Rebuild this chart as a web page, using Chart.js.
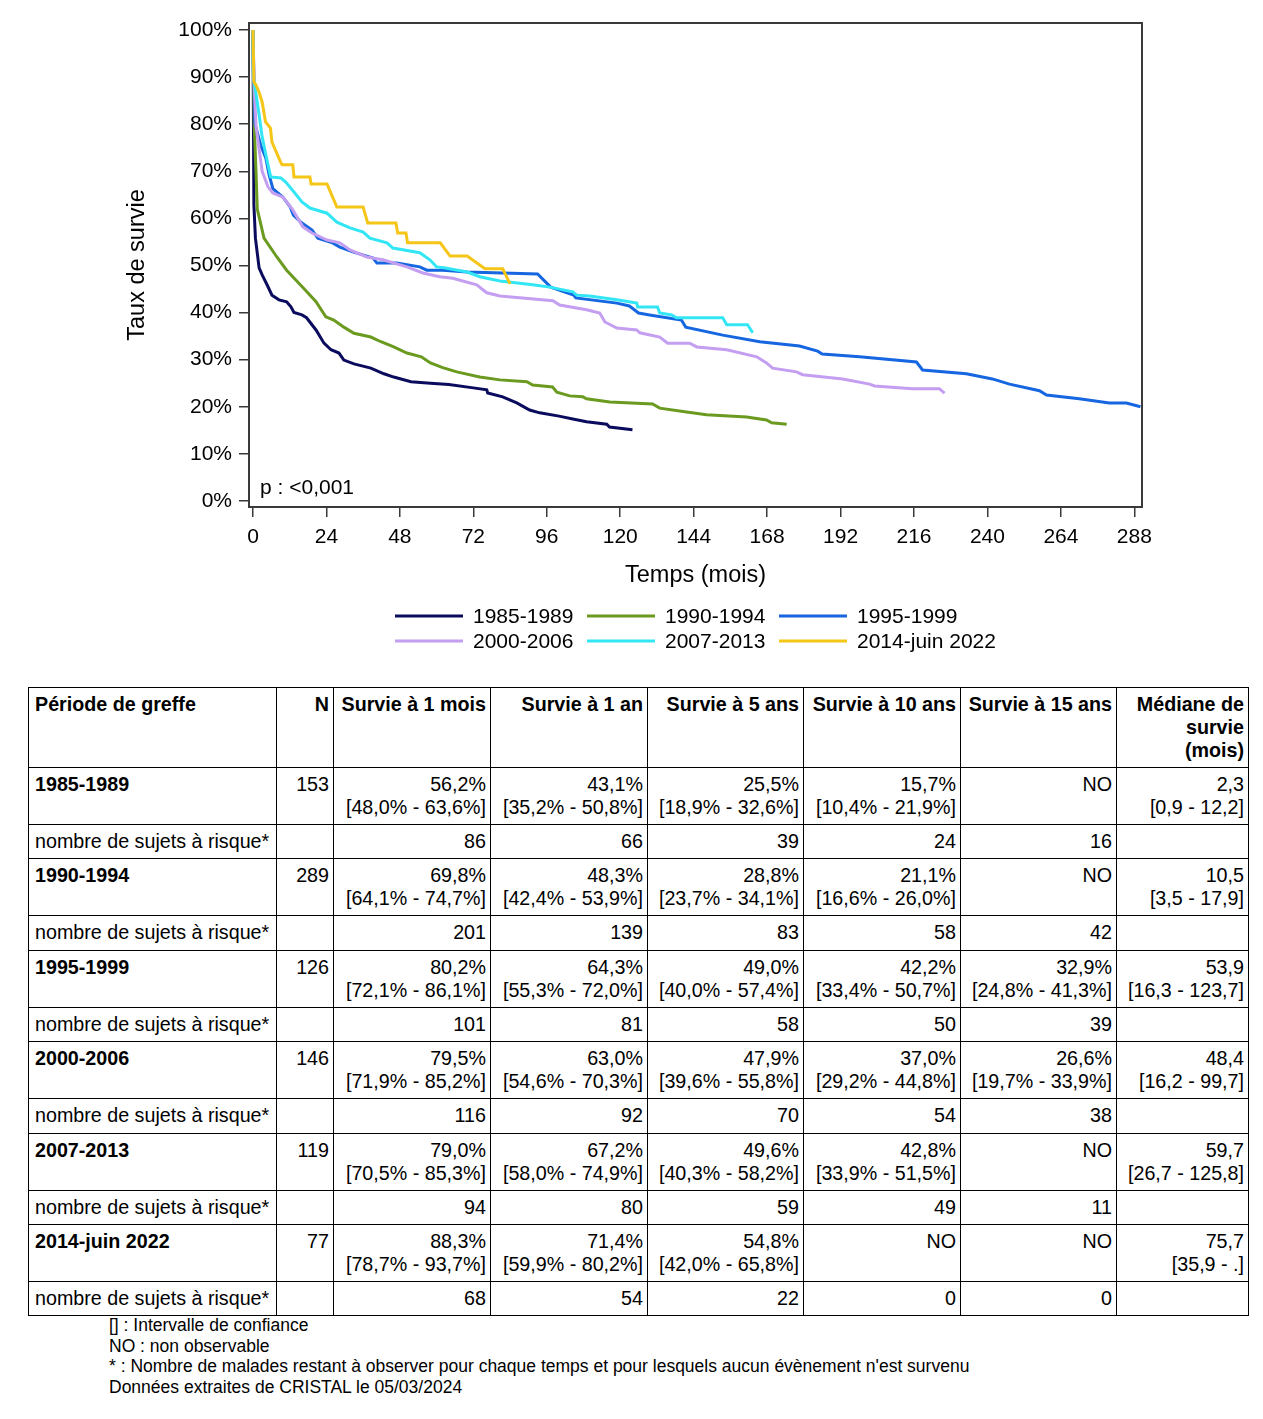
<!DOCTYPE html>
<html><head><meta charset="utf-8">
<script src="https://cdn.jsdelivr.net/npm/chart.js@4.4.1/dist/chart.umd.min.js"></script>
<style>
html,body{margin:0;padding:0;background:#fff;}
body{width:1263px;height:1419px;position:relative;font-family:'Liberation Sans',Arial,sans-serif;color:#000;overflow:hidden;}
#chartBox{position:absolute;left:0;top:0;width:1263px;height:665px;}
#tbl{position:absolute;left:28px;top:687px;border-collapse:collapse;font-size:19.7px;line-height:23px;table-layout:fixed;width:1220px;}
#tbl td,#tbl th{border:1px solid #000;padding:5px 4px 0 6px;vertical-align:top;text-align:right;overflow:hidden;white-space:nowrap;}
#tbl th{font-weight:bold;}
#tbl td.first,#tbl th.first{text-align:left;}
#tbl tr.hdr{height:80px;}
#tbl tr.main{height:57px;}
#tbl tr.main td.first{font-weight:bold;}
#tbl tr.risk{height:34.4px;}
#tbl tr.risk td{padding-top:5px;}
#foot{position:absolute;left:109px;top:1315px;font-size:17.5px;line-height:20.5px;}
</style>
</head><body>
<div id="chartBox"><canvas id="c" width="1263" height="665"></canvas></div>
<table id="tbl"></table>
<div id="foot">[] : Intervalle de confiance<br>NO : non observable<br>* : Nombre de malades restant à observer pour chaque temps et pour lesquels aucun évènement n'est survenu<br>Données extraites de CRISTAL le 05/03/2024</div>
<script>
// ---- chart data ----
const periods = ['1985-1989','1990-1994','1995-1999','2000-2006','2007-2013','2014-juin 2022'];
const xTicks = [0,24,48,72,96,120,144,168,192,216,240,264,288];
const yTicks = [0,10,20,30,40,50,60,70,80,90,100];

const t1985 = [0,0.3,0.8,2,3,4.6,6.2,8.5,11,12.4,13.4,16,17.5,20.6,23.2,25.5,28.1,29.7,33,38.5,42.8,46,51.6,58,64,72,76.4,76.7,81.6,86.2,90.4,93.7,100,104.5,109,115.6,116.5,124];
const s1985 = [100,62.8,55.8,49.5,48,45.9,43.7,42.7,42.3,41.2,40,39.5,38.9,36.3,33.5,32.1,31.4,29.9,29.1,28.2,27,26.3,25.3,25,24.7,24,23.6,22.9,22.1,20.8,19.3,18.7,18,17.4,16.8,16.3,15.7,15.1];

const t1990 = [0,0.4,1,1.4,3.6,7.8,11,14,17.6,20.6,23.8,26.4,29.7,33,38.5,41.8,46,50.3,55,58,62,66.6,74.1,80.7,89.5,91.4,97.9,99.3,103.5,107.8,109,116.6,130.6,132.9,141.7,148.2,161.3,167.8,169.5,174.4];
const s1990 = [100,80,69.8,62,55.8,51.8,49,46.9,44.4,42.3,39.1,38.4,36.9,35.6,34.8,33.8,32.7,31.4,30.6,29.3,28.3,27.4,26.3,25.7,25.3,24.6,24.2,23.1,22.3,22.1,21.7,21,20.6,19.7,18.9,18.3,17.8,17.2,16.6,16.3];

const t1995 = [0,0.6,2.5,4.2,5.3,6.5,9.8,12.2,13.2,16,19.3,21.2,26,28.4,32.6,39.2,40.5,47,54.5,56.8,62,70,93,97.3,104.8,105.5,118.9,123,126,129.6,140,141.4,153.5,165.6,178.6,184.5,186,198.2,216.8,218.8,233.1,241.6,247.2,257,259.3,270,279.8,285.4,290];
const s1995 = [100,80.2,75.6,72.8,69.2,66.3,64.5,62.4,60.7,59,57.5,55.8,54.8,53.9,52.9,51.6,50.5,50.5,49.7,49,49,48.6,48.2,45.4,43.7,43.1,42,41.4,39.9,39.5,38.4,36.9,35.2,33.8,32.9,31.8,31.2,30.6,29.5,27.8,27,25.9,24.8,23.4,22.5,21.7,20.8,20.8,20];

const t2000 = [0,0.4,1,3,4.9,6.5,9.8,13,16.3,19.3,24.2,28.4,31.7,37.2,42.4,50.3,55.5,61,65.3,73.1,76.4,80.7,98,100.2,109,113.3,115,118.9,125.4,126.4,132.9,135.5,142.7,145,154.8,164.6,167.8,169.8,177.6,179.6,192.7,201.5,203.1,215.5,224.3,226];
const s2000 = [100,88,79.5,70,66.7,65.4,64.5,61.8,58.2,56.9,55.4,54.8,53.3,51.8,51.2,49.7,48.4,47.6,47.3,45.9,44.2,43.5,42.5,41.6,40.6,39.9,38,36.7,36.3,35.7,34.8,33.5,33.5,32.7,32.1,30.6,29.3,28.2,27.4,26.8,25.9,24.8,24.4,23.8,23.8,22.9];

const t2007 = [0,0.1,0.9,2,2.9,4.2,5.8,9.1,10.7,13.4,16,18.6,24.2,27.4,31.7,36,38.2,43.8,45.7,54.5,57.8,60,62.4,70,74.1,80.7,91.4,97,104.5,105.8,110,118.9,125.4,125.7,132.2,132.9,136.8,138.4,153.5,154.8,161.6,163.3];
const s2007 = [100,90.4,86.8,82,77.7,73.5,68.8,68.6,67.7,65.6,63.5,62.2,61.1,59.2,58,57.1,55.8,54.8,53.7,52.7,51.2,49.7,49.5,48.6,47.6,46.7,45.9,45.4,44.4,43.7,43.5,42.7,42,41.2,41.2,39.9,39.5,38.9,38.9,37.4,37.4,35.7];

const t2014 = [0,0.3,1,2,3,4.1,5.7,6.2,9,9.5,13,13.4,18.6,19,24.2,27.4,36,37.5,46.7,47.3,50,50.5,61.2,64.4,70,75.8,81.6,84];
const s2014 = [100,89,88.3,86.8,84.7,80.5,79.2,76.2,72,71.4,71.4,68.8,68.8,67.3,67.3,62.4,62.4,59,59,56.9,56.9,54.8,54.8,52,52,49.3,49.3,46.1];

// ---- table data ----
const nPatients = [153,289,126,146,119,77];
const surv1m  = ['56,2%<br>[48,0% - 63,6%]','69,8%<br>[64,1% - 74,7%]','80,2%<br>[72,1% - 86,1%]','79,5%<br>[71,9% - 85,2%]','79,0%<br>[70,5% - 85,3%]','88,3%<br>[78,7% - 93,7%]'];
const surv1a  = ['43,1%<br>[35,2% - 50,8%]','48,3%<br>[42,4% - 53,9%]','64,3%<br>[55,3% - 72,0%]','63,0%<br>[54,6% - 70,3%]','67,2%<br>[58,0% - 74,9%]','71,4%<br>[59,9% - 80,2%]'];
const surv5a  = ['25,5%<br>[18,9% - 32,6%]','28,8%<br>[23,7% - 34,1%]','49,0%<br>[40,0% - 57,4%]','47,9%<br>[39,6% - 55,8%]','49,6%<br>[40,3% - 58,2%]','54,8%<br>[42,0% - 65,8%]'];
const surv10a = ['15,7%<br>[10,4% - 21,9%]','21,1%<br>[16,6% - 26,0%]','42,2%<br>[33,4% - 50,7%]','37,0%<br>[29,2% - 44,8%]','42,8%<br>[33,9% - 51,5%]','NO'];
const surv15a = ['NO','NO','32,9%<br>[24,8% - 41,3%]','26,6%<br>[19,7% - 33,9%]','NO','NO'];
const mediane = ['2,3<br>[0,9 - 12,2]','10,5<br>[3,5 - 17,9]','53,9<br>[16,3 - 123,7]','48,4<br>[16,2 - 99,7]','59,7<br>[26,7 - 125,8]','75,7<br>[35,9 - .]'];
const risk1m  = [86,201,101,116,94,68];
const risk1a  = [66,139,81,92,80,54];
const risk5a  = [39,83,58,70,59,22];
const risk10a = [24,58,50,54,49,0];
const risk15a = [16,42,39,38,11,0];

// ---- build table ----
(function(){
  const tbl = document.getElementById('tbl');
  const widths = [248,57,157,157,156,157,156,132];
  let html = '<colgroup>' + widths.map(w=>'<col style="width:'+w+'px">').join('') + '</colgroup>';
  html += '<tr class="hdr"><th class="first">Période de greffe</th><th>N</th><th>Survie à 1 mois</th><th>Survie à 1 an</th><th>Survie à 5 ans</th><th>Survie à 10 ans</th><th>Survie à 15 ans</th><th>Médiane de<br>survie<br>(mois)</th></tr>';
  periods.forEach((p,i)=>{
    html += '<tr class="main"><td class="first">'+p+'</td><td>'+nPatients[i]+'</td><td>'+surv1m[i]+'</td><td>'+surv1a[i]+'</td><td>'+surv5a[i]+'</td><td>'+surv10a[i]+'</td><td>'+surv15a[i]+'</td><td>'+mediane[i]+'</td></tr>';
    html += '<tr class="risk"><td class="first">nombre de sujets à risque*</td><td></td><td>'+risk1m[i]+'</td><td>'+risk1a[i]+'</td><td>'+risk5a[i]+'</td><td>'+risk10a[i]+'</td><td>'+risk15a[i]+'</td><td></td></tr>';
  });
  tbl.innerHTML = html;
})();

// ---- chart ----
const seriesT = [t1985,t1990,t1995,t2000,t2007,t2014];
const seriesS = [s1985,s1990,s1995,s2000,s2007,s2014];
const lineColors = ['#0b0b5e','#6a9a1f','#1566e0','#c49ef0','#33e6f5','#f5c518'];
const FONT = "'Liberation Sans', Arial, sans-serif";

const datasets = periods.map((p,i)=>({
  label: p,
  data: seriesT[i].map((t,k)=>({x:t, y:seriesS[i][k]})),
  borderColor: lineColors[i],
  backgroundColor: lineColors[i],
  borderWidth: 3,
  pointRadius: 0,
  tension: 0,
  fill: false,
  order: periods.length - 1 - i
}));

const framePlugin = {
  id: 'frame',
  afterDatasetsDraw(chart){
    const {ctx, chartArea:a} = chart;
    ctx.save();
    ctx.strokeStyle = '#3a3a3a';
    ctx.lineWidth = 2;
    ctx.strokeRect(a.left, a.top, a.right - a.left, a.bottom - a.top);
    ctx.fillStyle = '#000';
    ctx.font = '21px ' + FONT;
    ctx.textBaseline = 'middle';
    ctx.fillText('p : <0,001', a.left + 11, a.bottom - 19);
    ctx.restore();
  }
};

const gridLegend = {
  id: 'gridLegend',
  afterDraw(chart){
    const ctx = chart.ctx;
    const cols = [395, 587, 779], rows = [616, 641];
    chart.data.datasets.forEach((ds,i)=>{
      const x = cols[i % 3], y = rows[Math.floor(i / 3)];
      ctx.save();
      ctx.strokeStyle = ds.borderColor;
      ctx.lineWidth = 3;
      ctx.beginPath(); ctx.moveTo(x, y); ctx.lineTo(x + 68, y); ctx.stroke();
      ctx.fillStyle = '#000';
      ctx.font = '21px ' + FONT;
      ctx.textBaseline = 'middle';
      ctx.fillText(ds.label, x + 78, y + 1);
      ctx.restore();
    });
  }
};

new Chart(document.getElementById('c'), {
  type: 'line',
  data: { datasets },
  options: {
    responsive: false,
    animation: false,
    events: [],
    devicePixelRatio: 1,
    layout: { padding: { top: 23, right: 121, left: 110, bottom: 73 } },
    plugins: { legend: { display: false }, tooltip: { enabled: false } },
    scales: {
      x: {
        type: 'linear', min: -1.3, max: 290.5,
        afterBuildTicks: s => { s.ticks = xTicks.map(v=>({value:v})); },
        afterFit: s => { s.height = 85; },
        grid: { drawOnChartArea: false, drawTicks: true, tickLength: 10, color: '#3a3a3a', lineWidth: 1.5 },
        border: { display: false },
        ticks: { font: { size: 21, family: FONT }, color: '#000', padding: 8, maxRotation: 0, autoSkip: false },
        title: { display: true, text: 'Temps (mois)', font: { size: 23.5, family: FONT }, color: '#000', padding: { top: 0, bottom: 2 } }
      },
      y: {
        type: 'linear', min: -1.3, max: 101.5,
        afterBuildTicks: s => { s.ticks = yTicks.map(v=>({value:v})); },
        afterFit: s => { s.width = 139; },
        grid: { drawOnChartArea: false, drawTicks: true, tickLength: 10, color: '#3a3a3a', lineWidth: 1.5 },
        border: { display: false },
        ticks: { font: { size: 21, family: FONT }, color: '#000', padding: 7, callback: v => v + '%', autoSkip: false },
        title: { display: true, text: 'Taux de survie', font: { size: 23.5, family: FONT }, color: '#000', padding: { top: 13, bottom: 0 } }
      }
    }
  },
  plugins: [framePlugin, gridLegend]
});
</script>
</body></html>
